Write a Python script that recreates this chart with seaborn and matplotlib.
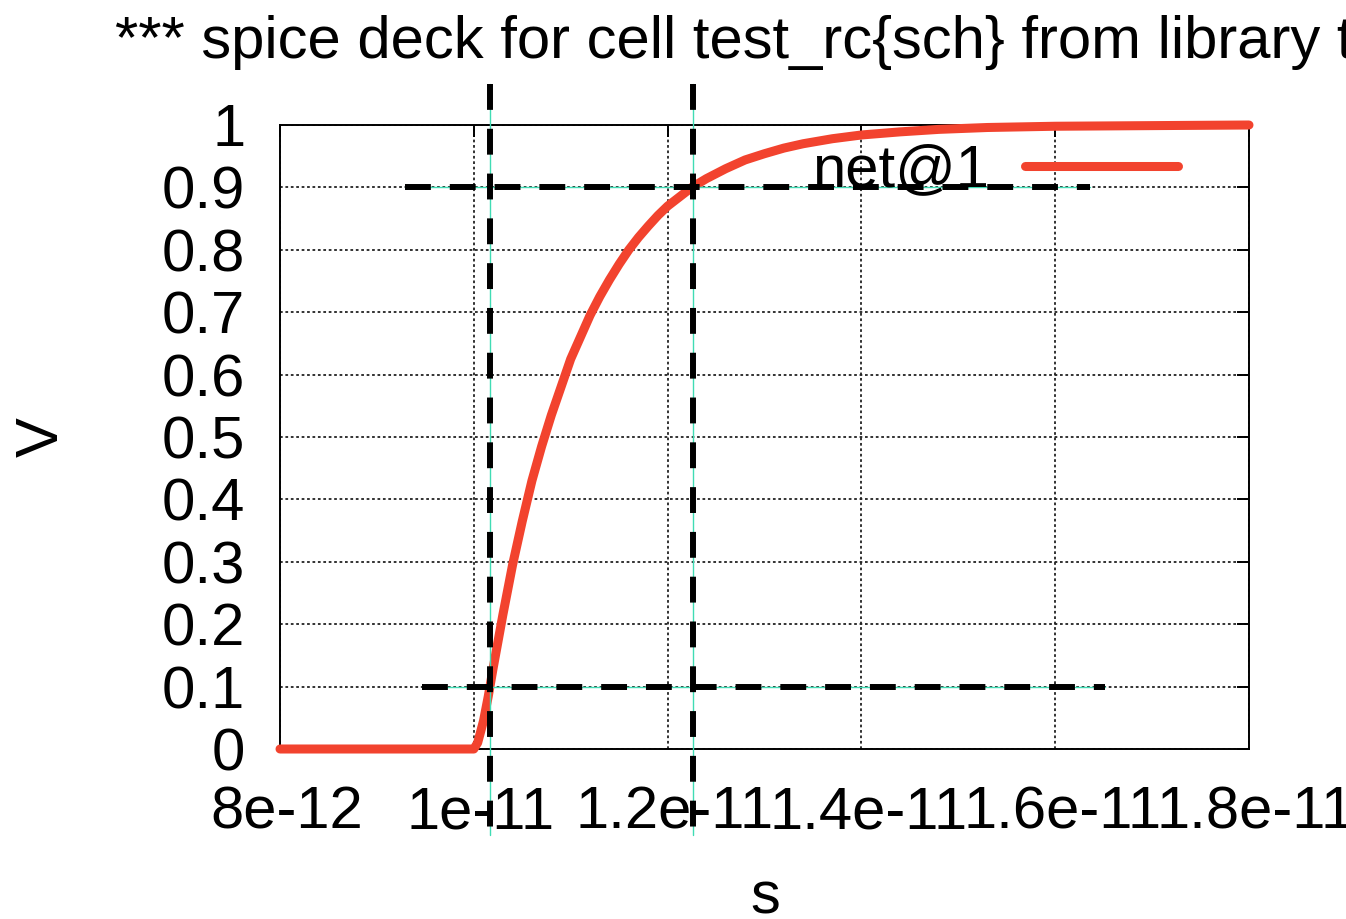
import matplotlib
matplotlib.use("Agg")
import matplotlib.pyplot as plt
from matplotlib.transforms import ScaledTranslation
import pandas as pd
import seaborn as sns

# Transient response of net@1: time (s) and node voltage (V)
time_s = [8.0e-12, 1.000e-11, 1.004e-11, 1.010e-11, 1.015e-11, 1.020e-11,
          1.030e-11, 1.040e-11, 1.050e-11, 1.060e-11, 1.070e-11, 1.080e-11,
          1.090e-11, 1.100e-11, 1.110e-11, 1.120e-11, 1.130e-11, 1.140e-11,
          1.150e-11, 1.160e-11, 1.170e-11, 1.180e-11, 1.190e-11, 1.200e-11,
          1.210e-11, 1.225e-11, 1.240e-11, 1.260e-11, 1.280e-11, 1.300e-11,
          1.320e-11, 1.340e-11, 1.370e-11, 1.400e-11, 1.440e-11, 1.480e-11,
          1.530e-11, 1.600e-11, 1.700e-11, 1.800e-11]
volts = [0.0, 0.0, 0.01, 0.045, 0.085, 0.13,
         0.215, 0.295, 0.365, 0.43, 0.485, 0.535,
         0.58, 0.625, 0.66, 0.695, 0.725, 0.752,
         0.777, 0.80, 0.82, 0.838, 0.855, 0.870,
         0.882, 0.90, 0.914, 0.930, 0.944, 0.954,
         0.963, 0.970, 0.978, 0.984, 0.989, 0.993,
         0.996, 0.998, 0.999, 1.0]

# Rise-time measurement: 10 % / 90 % levels and their crossing times
level_low = 0.1
level_high = 0.9
t_cross_low = 1.0167e-11
t_cross_high = 1.2262e-11
low_span_s = [9.465e-12, 1.6514e-11]
high_span_s = [9.29e-12, 1.636e-11]
marker_span_v = [1.0657, -0.138]

x_ticks = [8e-12, 1e-11, 1.2e-11, 1.4e-11, 1.6e-11, 1.8e-11]
x_tick_labels = ["8e-12", "1e-11", "1.2e-11", "1.4e-11", "1.6e-11", "1.8e-11"]
y_ticks = [0.0, 0.1, 0.2, 0.3, 0.4, 0.5, 0.6, 0.7, 0.8, 0.9, 1.0]
y_tick_labels = ["0", "0.1", "0.2", "0.3", "0.4", "0.5", "0.6", "0.7", "0.8", "0.9", "1"]

title = "*** spice deck for cell test_rc{sch} from library t"
series_name = "net@1"

sns.set_theme(style="white")
plt.rcParams["font.family"] = ["Liberation Sans", "DejaVu Sans"]
plt.rcParams["text.color"] = "black"
plt.rcParams["axes.labelcolor"] = "black"
plt.rcParams["xtick.color"] = "black"
plt.rcParams["ytick.color"] = "black"
plt.rcParams["axes.edgecolor"] = "black"

FS = 43
W, H = 1346, 919
fig = plt.figure(figsize=(W / 100, H / 100), dpi=100)
ax = fig.add_axes([280 / W, 1 - 749 / H, 969 / W, 624 / H])

df = pd.DataFrame({"s": time_s, "V": volts})
sns.lineplot(data=df, x="s", y="V", ax=ax, color="#f2432e", linewidth=6.5,
             label=series_name, clip_on=False, zorder=3)

ax.set_xlim(x_ticks[0], x_ticks[-1])
ax.set_ylim(0, 1)
ax.set_xticks(x_ticks)
ax.set_xticklabels(x_tick_labels)
ax.set_yticks(y_ticks)
ax.set_yticklabels(y_tick_labels)

ax.grid(True, color="#222222", linestyle=(0, (1.5, 1.5)), linewidth=1.3)
ax.set_axisbelow(True)
for sp in ax.spines.values():
    sp.set_linewidth(1.4)
    sp.set_color("black")
ax.tick_params(axis="both", direction="in", length=8.6, width=1.4,
               top=True, right=True, labelsize=FS)
ax.tick_params(axis="x", pad=26)
ax.tick_params(axis="y", pad=25)

# x tick labels sit slightly right of their ticks
shift = ScaledTranslation(7 / 100, 0, fig.dpi_scale_trans)
for lab in ax.get_xticklabels():
    lab.set_transform(lab.get_transform() + shift)

# 10 % / 90 % marker lines with thin guide lines underneath
dash = dict(color="black", linewidth=4.3, linestyle=(0, (4.33, 3.17)),
            clip_on=False, zorder=6)
guide = dict(color="#40dcb4", linewidth=1.0, clip_on=False, zorder=5)
for t in (t_cross_low, t_cross_high):
    ax.plot([t, t], marker_span_v, **guide)
    ax.plot([t, t], marker_span_v, **dash)
for lvl, span in ((level_high, high_span_s), (level_low, low_span_s)):
    ax.plot(span, [lvl, lvl], **guide)
    ax.plot(span, [lvl, lvl], **dash)

ax.set_xlabel("s", fontsize=FS)
ax.set_ylabel("V", fontsize=FS)
ax.xaxis.label.set_verticalalignment("baseline")
ax.yaxis.label.set_verticalalignment("baseline")
ax.xaxis.set_label_coords((765 - 280) / 969, (749 - 913) / 624)
ax.yaxis.set_label_coords((58 - 280) / 969, 0.5)

leg = ax.legend(loc="center right", bbox_to_anchor=(1178 / W, 1 - 171 / H),
                bbox_transform=fig.transFigure, frameon=False, markerfirst=False,
                handlelength=2.57, handletextpad=0.6, borderpad=0,
                borderaxespad=0, fontsize=FS)
leg.set_zorder(7)

fig.text(115 / W, 1 - 58 / H, title, fontsize=FS, ha="left", va="baseline")

fig.savefig("out.png", dpi=100)
